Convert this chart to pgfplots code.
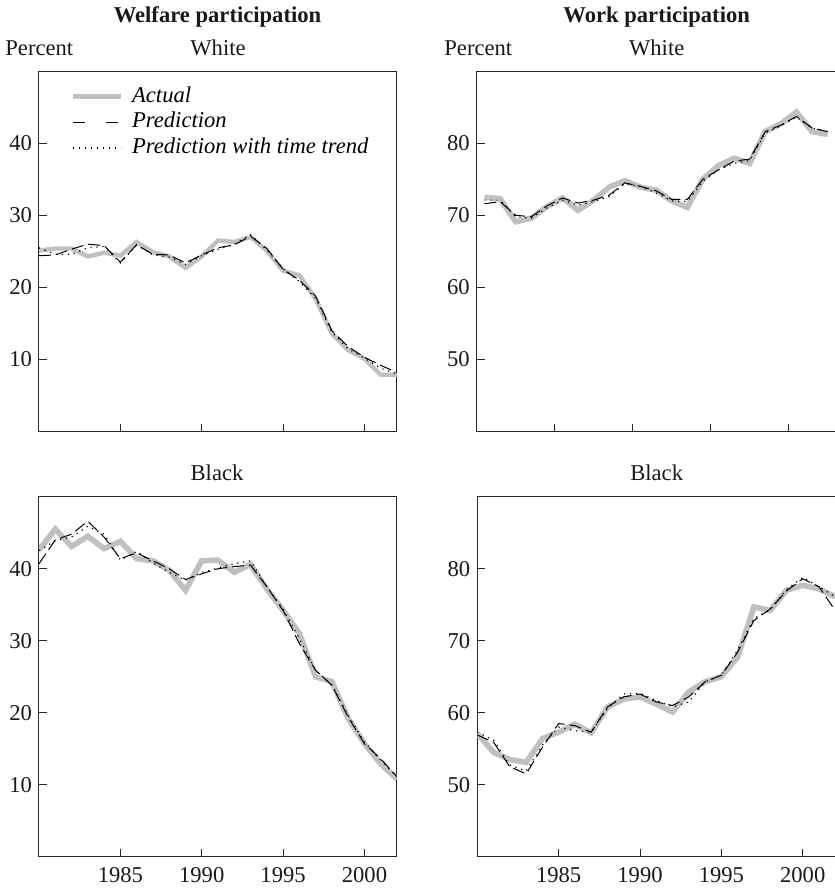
\documentclass[border=0pt]{standalone}
\usepackage{fontspec}
\setmainfont{Liberation Serif}
\usepackage{pgfplots}
\usepackage{pgfplotstable}
\pgfplotsset{compat=1.18}
\definecolor{actgray}{RGB}{192,192,192}
\newcommand\fs{\fontsize{11.3}{13.5}\selectfont}

\pgfplotstableread{
year A P T
1980 25.1 24.4 25.5
1981 25.4 24.5 24.6
1982 25.4 25.3 24.6
1983 24.3 26.0 25.5
1984 24.8 25.8 25.7
1985 24.4 23.5 23.4
1986 26.3 25.9 25.9
1987 24.9 24.6 24.5
1988 24.3 24.5 24.2
1989 22.7 23.4 23.2
1990 24.3 24.5 24.4
1991 26.5 25.5 25.3
1992 26.3 25.9 26.0
1993 27.0 27.1 27.3
1994 25.1 25.4 25.2
1995 22.3 22.5 22.6
1996 21.7 21.0 20.8
1997 18.4 18.8 18.5
1998 13.6 14.0 13.8
1999 11.3 11.8 11.5
2000 10.1 10.3 10.2
2001 7.9 9.2 8.8
2002 7.9 8.2 8.0
}\welwhite

\pgfplotstableread{
year A P T
1980.5 72.5 71.6 72.1
1981.5 72.3 71.9 72.1
1982.5 69.1 70.0 69.8
1983.5 69.6 69.8 69.6
1984.5 71.2 71.3 71.0
1985.5 72.4 72.4 72.1
1986.5 70.7 71.7 71.4
1987.5 72.1 72.1 71.9
1988.5 73.9 72.8 72.6
1989.5 74.8 74.5 74.4
1990.5 73.9 74.0 74.0
1991.5 73.5 73.4 73.1
1992.5 72.0 72.2 72.0
1993.5 71.1 72.2 71.9
1994.5 75.0 75.0 74.7
1995.5 76.9 76.3 76.3
1996.5 77.9 77.5 77.2
1997.5 77.2 77.8 77.6
1998.5 81.6 81.6 81.4
1999.5 82.7 82.5 82.4
2000.5 84.3 83.7 83.6
2001.5 81.6 82.1 82.1
2002.5 81.2 81.6 81.6
}\workwhite

\pgfplotstableread{
year A P T
1980 42.6 40.7 42.5
1981 45.5 44.0 43.9
1982 43.1 44.8 44.4
1983 44.5 46.6 45.9
1984 42.8 44.4 44.8
1985 43.8 41.4 41.2
1986 41.4 42.2 42.4
1987 41.1 41.1 40.8
1988 39.8 40.0 39.5
1989 37.0 38.5 38.4
1990 41.1 39.3 39.5
1991 41.2 40.0 40.1
1992 39.5 40.3 40.7
1993 40.6 40.5 41.1
1994 37.2 37.5 37.5
1995 34.2 34.2 34.4
1996 31.0 29.6 30.3
1997 25.0 25.9 25.9
1998 24.3 23.8 23.9
1999 19.2 19.4 19.6
2000 15.7 15.7 15.9
2001 12.9 13.6 13.4
2002 10.8 11.1 11.1
}\welblack

\pgfplotstableread{
year A P T
1980 57.1 56.9 57.3
1981 54.5 55.9 56.2
1982 53.5 52.5 52.7
1983 53.1 51.5 51.9
1984 56.4 55.2 55.5
1985 57.3 58.5 58.0
1986 58.4 58.2 57.5
1987 57.2 57.3 57.3
1988 60.8 60.8 60.6
1989 61.9 62.2 62.6
1990 62.2 62.6 62.7
1991 61.2 61.5 61.7
1992 60.1 61.0 60.8
1993 62.9 62.2 61.5
1994 64.3 64.3 64.3
1995 65.0 65.2 65.2
1996 67.7 68.4 68.7
1997 74.7 72.8 73.1
1998 74.2 74.4 74.3
1999 77.0 76.9 77.1
2000 77.7 78.6 78.8
2001 77.2 77.5 77.5
2002 76.1 74.2 76.1
}\workblack

\pgfplotsset{
  panel/.style={
    scale only axis, anchor=south west,
    axis line style={line width=0.5pt, black!85},
    every tick/.style={line width=0.5pt, black!85},
    tick align=inside, major tick length=4pt, tick pos=left,
    xtick={1985,1990,1995,2000},
    ticklabel style={font=\fs, text=black!90},
    xticklabel style={yshift=-2pt},
    /pgf/number format/assume math mode=true,
    /pgf/number format/1000 sep={},
  },
  act/.style={actgray, line width=2.8pt},
  pred/.style={black, line width=0.5pt, dash pattern=on 6pt off 2.5pt},
  trend/.style={black, line width=0.6pt, dash pattern=on 0.6pt off 2.4pt},
}

\begin{document}
\begin{tikzpicture}
% Top-left: welfare, white
\begin{axis}[panel, at={(19.5pt,-215.85pt)}, width=179pt, height=180.35pt,
  xmin=1980, xmax=2002, ymin=0, ymax=50, ytick={10,20,30,40}, xticklabels={},
  legend style={draw=none, fill=none, at={(0.087,0.959)}, anchor=north west,
    font=\fs\itshape, row sep=2.8pt, column sep=4.6pt, inner sep=0pt,
    nodes={inner sep=0pt, text height=7.9pt, text depth=2.2pt}},
  legend cell align=left,
  legend image code/.code={\draw[#1] (0pt,0pt) -- (24pt,0pt);}]
\addplot[act, line width=2.2pt] table[x=year,y=A]{\welwhite};
\addlegendentry{Actual}
\addplot[pred, legend image code/.code={\draw[black, line width=0.5pt] (0pt,0pt)--(6.5pt,0pt) (16.5pt,0pt)--(24pt,0pt);}] table[x=year,y=P]{\welwhite};
\addlegendentry{Prediction}
\addplot[trend] table[x=year,y=T]{\welwhite};
\addlegendentry{Prediction with time trend}
\end{axis}
% Top-right: work, white
\begin{axis}[panel, at={(238.35pt,-215.85pt)}, width=180pt, height=180.35pt,
  xmin=1980, xmax=2003.08, ymin=40, ymax=90, ytick={50,60,70,80}, xticklabels={}]
\addplot[act] table[x=year,y=A]{\workwhite};
\addplot[pred] table[x=year,y=P]{\workwhite};
\addplot[trend] table[x=year,y=T]{\workwhite};
\end{axis}
% Bottom-left: welfare, black
\begin{axis}[panel, at={(19.5pt,-428.35pt)}, width=179pt, height=180pt,
  xmin=1980, xmax=2002, ymin=0, ymax=50, ytick={10,20,30,40},
  xticklabels={1985,1990,1995,2000}]
\addplot[act] table[x=year,y=A]{\welblack};
\addplot[pred] table[x=year,y=P]{\welblack};
\addplot[trend] table[x=year,y=T]{\welblack};
\end{axis}
% Bottom-right: work, black
\begin{axis}[panel, at={(238.65pt,-428.35pt)}, width=180.6pt, height=180pt,
  xmin=1980, xmax=2002.2, ymin=40, ymax=90, ytick={50,60,70,80},
  xticklabels={1985,1990,1995,2000}]
\addplot[act] table[x=year,y=A]{\workblack};
\addplot[pred] table[x=year,y=P]{\workblack};
\addplot[trend] table[x=year,y=T]{\workblack};
\end{axis}
% Titles and labels
\node[anchor=base, font=\fs\bfseries, text=black!90] at (108.75pt,-11.3pt) {Welfare participation};
\node[anchor=base, font=\fs\bfseries, text=black!90] at (328.35pt,-11.3pt) {Work participation};
\node[anchor=base west, font=\fs, text=black!90, inner sep=0pt] at (2.5pt,-27.5pt) {Percent};
\node[anchor=base, font=\fs, text=black!90] at (109pt,-27.5pt) {White};
\node[anchor=base west, font=\fs, text=black!90, inner sep=0pt] at (222pt,-27.5pt) {Percent};
\node[anchor=base, font=\fs, text=black!90] at (328.35pt,-27.5pt) {White};
\node[anchor=base, font=\fs, text=black!90] at (108.5pt,-240pt) {Black};
\node[anchor=base, font=\fs, text=black!90] at (328.35pt,-240pt) {Black};
\pgfresetboundingbox
\useasboundingbox (0,0) rectangle (417.5pt,-445pt);
\end{tikzpicture}
\end{document}
